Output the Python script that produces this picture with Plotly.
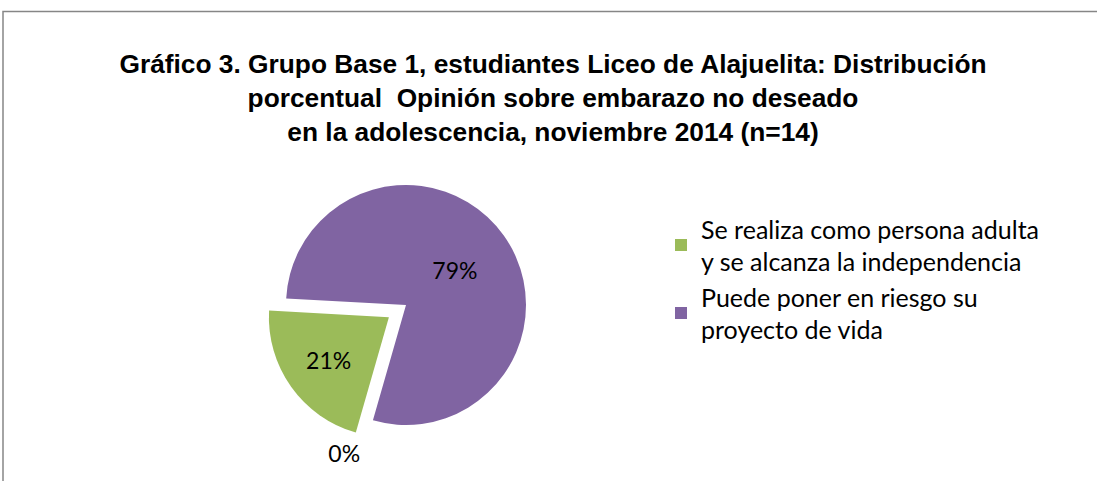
import plotly.graph_objects as go

categories = [
    "Se realiza como persona adulta<br>y se alcanza la independencia",
    "Puede poner en riesgo su<br>proyecto de vida",
    " ",
]
counts = [3, 11, 0]
colors = ["#9BBB59", "#8064A2", "rgba(0,0,0,0)"]
pulls = [0.175, 0, 0.175]
title_lines = [
    "Gráfico 3. Grupo Base 1, estudiantes Liceo de Alajuelita: Distribución",
    "porcentual  Opinión sobre embarazo no deseado",
    "en la adolescencia, noviembre 2014 (n=14)",
]

W, H = 1097, 481

fig = go.Figure()
fig.add_trace(go.Pie(
    labels=categories,
    values=counts,
    sort=False,
    direction="clockwise",
    rotation=196,
    pull=pulls,
    marker=dict(colors=colors, line=dict(width=0)),
    texttemplate="%{percent:.0%}",
    textposition=["inside", "inside", "outside"],
    insidetextorientation="horizontal",
    textfont=dict(family="Lato, Open Sans, sans-serif", size=23, color="#000000"),
    domain=dict(x=[265 / W, 547 / W], y=[1 - 446 / H, 1 - 164 / H]),
    hoverinfo="label+percent",
    automargin=False,
))

fig.update_layout(
    width=W, height=H,
    autosize=False,
    margin=dict(l=0, r=0, t=0, b=0, pad=0, autoexpand=False),
    paper_bgcolor="white",
    plot_bgcolor="white",
    title=dict(
        text="<br>".join(title_lines),
        x=553 / W, xanchor="center",
        y=1 - 73 / H, yanchor="top",
        font=dict(family="Liberation Sans Narrow, Arial Narrow, Liberation Sans, sans-serif",
                  size=26.3, color="#000000", weight="bold"),
    ),
    legend=dict(
        x=661 / W, xanchor="left",
        y=1 - 206 / H, yanchor="top",
        font=dict(family="Lato, Open Sans, sans-serif", size=25, color="#000000"),
        bgcolor="rgba(0,0,0,0)",
        itemclick=False,
    ),
    showlegend=True,
    shapes=[dict(
        type="rect", xref="paper", yref="paper",
        x0=3 / W, x1=1.01, y0=-0.1, y1=1 - 11.5 / H,
        line=dict(color="#868686", width=1.5),
        fillcolor="rgba(0,0,0,0)", layer="below",
    )],
)

fig.write_html(
    "out.html",
    config={"displayModeBar": False, "responsive": False},
    post_script="document.body.style.margin='0';document.body.style.overflow='hidden';",
)
